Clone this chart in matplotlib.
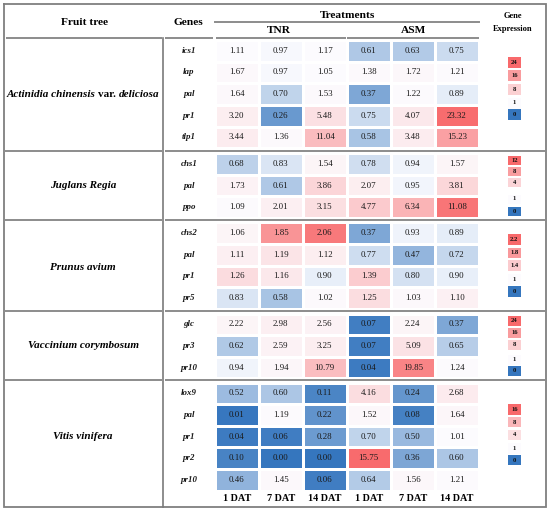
import matplotlib
matplotlib.use("Agg")
import matplotlib.pyplot as plt
import numpy as np
from matplotlib.colors import LinearSegmentedColormap, TwoSlopeNorm
from matplotlib.transforms import blended_transform_factory

# ---------------- data ----------------
days = ["1 DAT", "7 DAT", "14 DAT", "1 DAT", "7 DAT", "14 DAT"]
treatments = ["TNR", "ASM"]

act_genes = ["ics1", "lap", "pal", "pr1", "tlp1"]
act_vals = [[1.11, 0.97, 1.17, 0.61, 0.63, 0.75],
            [1.67, 0.97, 1.05, 1.38, 1.72, 1.21],
            [1.64, 0.70, 1.53, 0.37, 1.22, 0.89],
            [3.20, 0.26, 5.48, 0.75, 4.07, 23.32],
            [3.44, 1.36, 11.04, 0.58, 3.48, 15.23]]
act_legend = [24, 16, 8, 1, 0]

jug_genes = ["chs1", "pal", "ppo"]
jug_vals = [[0.68, 0.83, 1.54, 0.78, 0.94, 1.57],
            [1.73, 0.61, 3.86, 2.07, 0.95, 3.81],
            [1.09, 2.01, 3.15, 4.77, 6.34, 11.08]]
jug_legend = [12, 8, 4, 1, 0]

pru_genes = ["chs2", "pal", "pr1", "pr5"]
pru_vals = [[1.06, 1.85, 2.06, 0.37, 0.93, 0.89],
            [1.11, 1.19, 1.12, 0.77, 0.47, 0.72],
            [1.26, 1.16, 0.90, 1.39, 0.80, 0.90],
            [0.83, 0.58, 1.02, 1.25, 1.03, 1.10]]
pru_legend = [2.2, 1.8, 1.4, 1, 0]

vac_genes = ["glc", "pr3", "pr10"]
vac_vals = [[2.22, 2.98, 2.56, 0.07, 2.24, 0.37],
            [0.62, 2.59, 3.25, 0.07, 5.09, 0.65],
            [0.94, 1.94, 10.79, 0.04, 19.85, 1.24]]
vac_legend = [24, 16, 8, 1, 0]

vit_genes = ["lox9", "pal", "pr1", "pr2", "pr10"]
vit_vals = [[0.52, 0.60, 0.11, 4.16, 0.24, 2.68],
            [0.01, 1.19, 0.22, 1.52, 0.08, 1.64],
            [0.04, 0.06, 0.28, 0.70, 0.50, 1.01],
            [0.10, 0.00, 0.00, 15.75, 0.36, 0.60],
            [0.46, 1.45, 0.06, 0.64, 1.56, 1.21]]
vit_legend = [16, 8, 4, 1, 0]

# species name pieces: (text, italic?)
act_name = [("Actinidia chinensis", True), ("var.", False), ("deliciosa", True)]
jug_name = [("Juglans Regia", True)]
pru_name = [("Prunus avium", True)]
vac_name = [("Vaccinium corymbosum", True)]
vit_name = [("Vitis vinifera", True)]

# ---------------- layout (pixels) ----------------
W, H = 550, 513
SERIF = "Liberation Serif"
cmap = LinearSegmentedColormap.from_list("bwr_x", ["#3576BE", "#FCFCFF", "#F8696B"])

sections = [
    dict(name=act_name, genes=act_genes, vals=act_vals, legend=act_legend,
         top=40.0, bot=148.3, label_y=94.3,
         leg_pos=[62.8, 75.8, 89.5, 103.0, 114.7], leg_h=11.0),
    dict(name=jug_name, genes=jug_genes, vals=jug_vals, legend=jug_legend,
         top=153.3, bot=217.8, label_y=186.0,
         leg_pos=[160.8, 171.7, 182.8, 199.0, 211.3], leg_h=9.0),
    dict(name=pru_name, genes=pru_genes, vals=pru_vals, legend=pru_legend,
         top=222.2, bot=309.0, label_y=267.0,
         leg_pos=[239.3, 253.0, 265.7, 279.3, 291.3], leg_h=10.5),
    dict(name=vac_name, genes=vac_genes, vals=vac_vals, legend=vac_legend,
         top=313.5, bot=378.3, label_y=346.0,
         leg_pos=[320.7, 333.0, 344.7, 359.5, 370.5], leg_h=10.0),
    dict(name=vit_name, genes=vit_genes, vals=vit_vals, legend=vit_legend,
         top=382.5, bot=490.7, label_y=436.7,
         leg_pos=[409.3, 422.0, 435.0, 448.7, 460.0], leg_h=10.5),
]
separators = [150.8, 220.0, 311.2, 380.4]

X0, X1 = 214.7, 478.8
LX0, LX1 = 507.7, 521.0
GENE_X = 189.0
NAME_X = 83.0

fig = plt.figure(figsize=(W / 100, H / 100), dpi=100)
fig.patch.set_facecolor("white")


def add_px_axes(x0, y0, x1, y1, **kw):
    return fig.add_axes([x0 / W, 1 - y1 / H, (x1 - x0) / W, (y1 - y0) / H], **kw)


bg = fig.add_axes([0, 0, 1, 1], zorder=0)
bg.set_xlim(0, W)
bg.set_ylim(H, 0)
bg.axis("off")

LINE_C = "#8c8c8c"

# outer border
bg.plot([3.5, 546, 546, 3.5, 3.5], [3.5, 3.5, 507, 507, 3.5], color="#7f7f7f", lw=1.3,
        solid_joinstyle="miter")
# header lines
bg.plot([214.7, 478.8], [21.7, 21.7], color=LINE_C, lw=1.4)
for xa, xb in [(6.3, 161.6), (165.0, 212.7), (216.0, 345.5), (347.3, 478.8)]:
    bg.plot([xa, xb], [37.5, 37.5], color=LINE_C, lw=1.4, solid_capstyle="butt")
# vertical line
bg.plot([163.3, 163.3], [37.5, 507], color="#7a7a7a", lw=1.2)
# section separators
for ys in separators:
    bg.plot([3.5, 161.6], [ys, ys], color=LINE_C, lw=1.4, solid_capstyle="butt")
    bg.plot([165.0, 546], [ys, ys], color=LINE_C, lw=1.4, solid_capstyle="butt")

# header text
hdr = dict(family=SERIF, fontweight="bold", ha="center", va="center", color="black")
bg.text(84.7, 22.7, "Fruit tree", fontsize=8.2, **hdr)
bg.text(188.8, 22.7, "Genes", fontsize=8.2, **hdr)
bg.text(347.4, 15.0, "Treatments", fontsize=8.2, **hdr)
bg.text(278.5, 30.3, treatments[0], fontsize=8.2, **hdr)
bg.text(413.5, 30.3, treatments[1], fontsize=8.2, **hdr)
bg.text(512.5, 15.7, "Gene", fontsize=6.0, **hdr)
bg.text(512.5, 28.7, "Expression", fontsize=6.0, **hdr)

renderer = fig.canvas.get_renderer()


def draw_name(parts, xc, yc, fs=8.0):
    objs = []
    for s, it in parts:
        t = bg.text(0, yc, s, family=SERIF, fontweight="bold",
                    fontstyle="italic" if it else "normal",
                    fontsize=fs, ha="left", va="center", color="black")
        objs.append(t)
    widths = [o.get_window_extent(renderer).width for o in objs]
    gap = fs * 100 / 72 * 0.25
    total = sum(widths) + gap * (len(objs) - 1)
    x = xc - total / 2
    for o, w in zip(objs, widths):
        o.set_x(x)
        x += w + gap


# legend axes in pixel coordinates
lax = add_px_axes(LX0, 0, LX1, H, zorder=2)
lax.set_xlim(0, 1)
lax.set_ylim(H, 0)
lax.axis("off")

for sec in sections:
    vals = np.array(sec["vals"])
    nrow = vals.shape[0]
    vmax = max(sec["legend"])
    norm = TwoSlopeNorm(vmin=0, vcenter=1, vmax=vmax)

    ax = add_px_axes(X0, sec["top"], X1, sec["bot"])
    ax.pcolormesh(vals, cmap=cmap, norm=norm, edgecolors="white", linewidth=0.75)
    ax.set_xlim(0, vals.shape[1])
    ax.set_ylim(nrow, 0)
    for s in ax.spines.values():
        s.set_visible(False)
    ax.set_yticks([])
    for i in range(nrow):
        for j in range(vals.shape[1]):
            ax.text(j + 0.5, i + 0.5, f"{vals[i, j]:.2f}", ha="center", va="center",
                    family=SERIF, fontsize=6.4, color="#1a1a1a")
    tr = blended_transform_factory(bg.transData, ax.transData)
    for i, g in enumerate(sec["genes"]):
        ax.text(GENE_X, i + 0.5, g, transform=tr, ha="center", va="center",
                family=SERIF, fontweight="bold", fontstyle="italic", fontsize=6.4,
                color="#1a1a1a", clip_on=False)
    if sec is sections[-1]:
        ax.set_xticks(np.arange(len(days)) + 0.5)
        ax.set_xticklabels(days, family=SERIF, fontweight="bold", fontsize=7.3)
        ax.tick_params(axis="x", length=0, pad=2.2)
    else:
        ax.set_xticks([])

    # legend boxes
    leg = np.array(sec["legend"], dtype=float)
    colors = [cmap(norm(v)) for v in leg]
    lax.barh(sec["leg_pos"], [1] * len(leg), left=0, height=sec["leg_h"],
             color=colors, edgecolor="none")
    for yc, v in zip(sec["leg_pos"], leg):
        lax.text(0.5, yc, f"{v:g}", ha="center", va="center", family=SERIF,
                 fontweight="bold", fontsize=4.8, color="#111111")

    draw_name(sec["name"], NAME_X, sec["label_y"])

fig.savefig("out.png", dpi=100, facecolor="white")
